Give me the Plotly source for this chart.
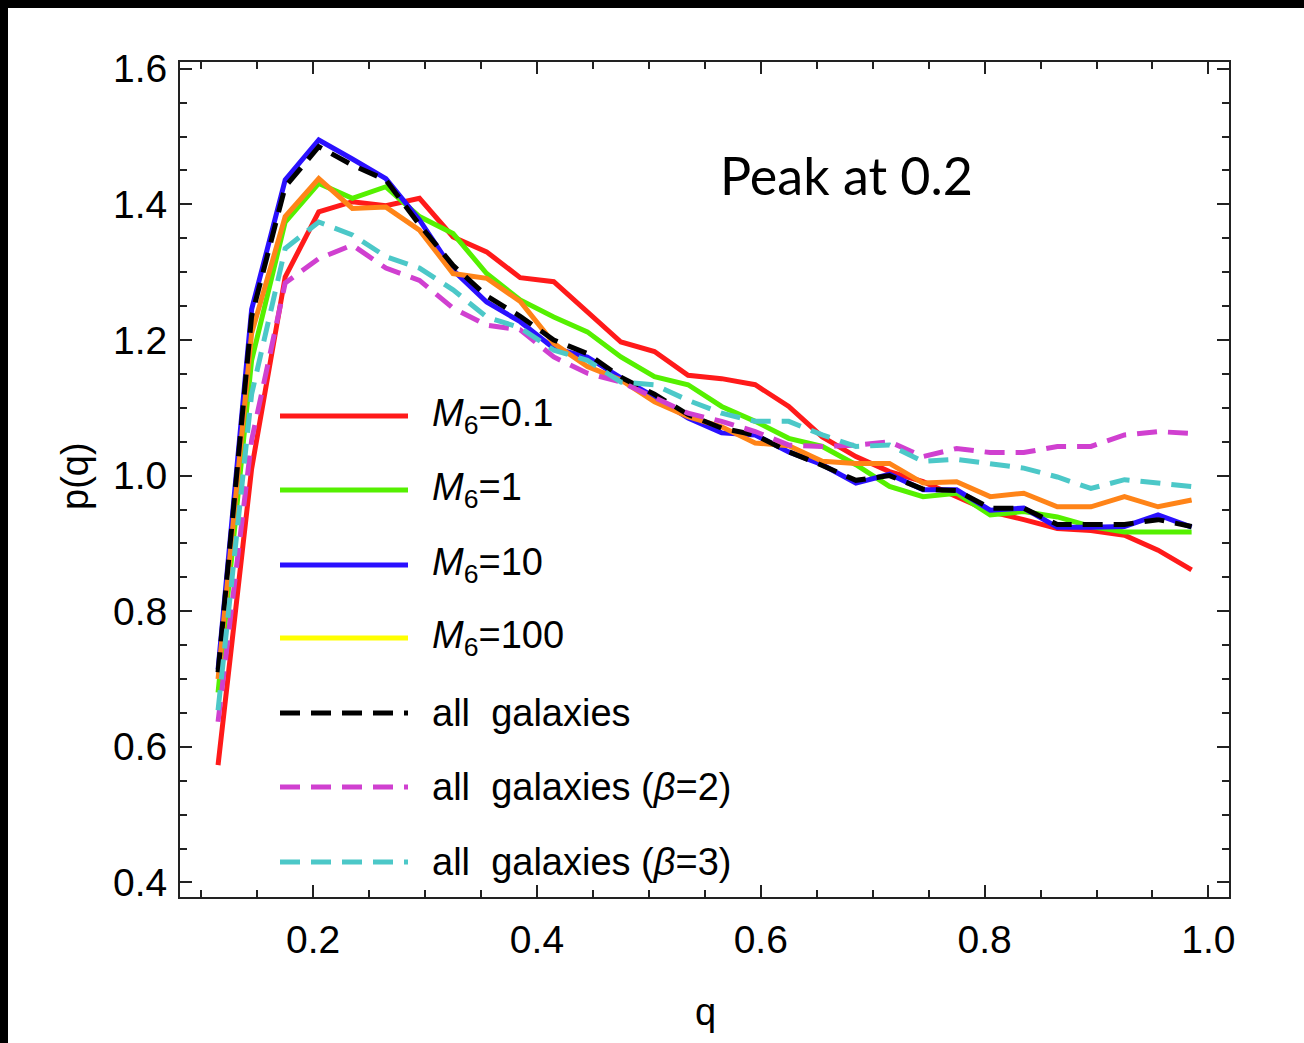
import plotly.graph_objects as go

# bin centres of q
q = [0.115, 0.145, 0.175, 0.205, 0.235, 0.265, 0.295, 0.325, 0.355, 0.385,
     0.415, 0.445, 0.475, 0.505, 0.535, 0.565, 0.595, 0.625, 0.655, 0.685,
     0.715, 0.745, 0.775, 0.805, 0.835, 0.865, 0.895, 0.925, 0.955, 0.985]

m6_01 = [0.573, 1.010, 1.293, 1.389, 1.404, 1.398, 1.409, 1.352, 1.330, 1.292,
         1.286, 1.242, 1.197, 1.183, 1.148, 1.143, 1.134, 1.102, 1.057, 1.028,
         1.006, 0.991, 0.969, 0.947, 0.935, 0.922, 0.919, 0.912, 0.890, 0.861]

m6_1 = [0.680, 1.170, 1.374, 1.431, 1.409, 1.426, 1.382, 1.357, 1.298, 1.259,
        1.234, 1.212, 1.175, 1.146, 1.134, 1.102, 1.080, 1.055, 1.043, 1.016,
        0.984, 0.969, 0.974, 0.942, 0.947, 0.939, 0.925, 0.917, 0.917, 0.917]

m6_10 = [0.714, 1.245, 1.436, 1.495, 1.467, 1.438, 1.377, 1.303, 1.256, 1.227,
         1.188, 1.175, 1.144, 1.116, 1.085, 1.063, 1.060, 1.035, 1.016, 0.989,
         1.002, 0.979, 0.979, 0.949, 0.952, 0.924, 0.924, 0.925, 0.942, 0.924]

m6_100 = [0.700, 1.210, 1.382, 1.438, 1.394, 1.396, 1.362, 1.298, 1.291, 1.257,
          1.195, 1.161, 1.141, 1.109, 1.087, 1.072, 1.048, 1.044, 1.021, 1.018,
          1.018, 0.989, 0.991, 0.969, 0.974, 0.954, 0.954, 0.969, 0.954, 0.964]

all_gal = [0.710, 1.235, 1.426, 1.485, 1.458, 1.436, 1.370, 1.310, 1.265, 1.235,
           1.200, 1.180, 1.145, 1.120, 1.090, 1.070, 1.060, 1.035, 1.015, 0.993,
           1.000, 0.980, 0.978, 0.952, 0.952, 0.928, 0.928, 0.928, 0.935, 0.925]

all_b2 = [0.637, 1.052, 1.284, 1.320, 1.340, 1.306, 1.288, 1.247, 1.222, 1.215,
          1.175, 1.151, 1.138, 1.116, 1.092, 1.080, 1.065, 1.045, 1.043, 1.045,
          1.050, 1.028, 1.040, 1.034, 1.034, 1.043, 1.043, 1.060, 1.065, 1.062]

all_b3 = [0.654, 1.120, 1.335, 1.374, 1.355, 1.323, 1.306, 1.274, 1.234, 1.218,
          1.185, 1.170, 1.138, 1.134, 1.111, 1.092, 1.080, 1.080, 1.060, 1.043,
          1.045, 1.021, 1.024, 1.018, 1.011, 0.998, 0.981, 0.994, 0.989, 0.984]

labels = ["<i>M</i><sub>6</sub>=0.1", "<i>M</i><sub>6</sub>=1",
          "<i>M</i><sub>6</sub>=10", "<i>M</i><sub>6</sub>=100",
          "all&nbsp;&nbsp;galaxies", "all&nbsp;&nbsp;galaxies (<i>β</i>=2)",
          "all&nbsp;&nbsp;galaxies (<i>β</i>=3)"]

series = [m6_01, m6_1, m6_10, m6_100, all_gal, all_b2, all_b3]
line_colors = ["#ff1a1a", "#55f000", "#2a10ff", "#ff8418", "#000000", "#d040d0", "#4cc8c8"]
legend_colors = ["#ff1a1a", "#55f000", "#2a10ff", "#ffff00", "#000000", "#d040d0", "#4cc8c8"]
dashes = ["solid", "solid", "solid", "solid", "20px,11px", "20px,11px", "20px,11px"]

FONT = "Liberation Sans, Arial, sans-serif"

fig = go.Figure()
for ys, c, d, lab in zip(series, line_colors, dashes, labels):
    fig.add_trace(go.Scatter(x=q, y=ys, mode="lines", name=lab,
                             line=dict(color=c, width=5, dash=d),
                             showlegend=False))

# the figure sits 8px from the top-left corner of the page (black page border)
OFF = 8
W, H = 1304 - OFF, 1043 - OFF
ml, mr, mt, mb = 180 - OFF, 75, 62 - OFF, 146
pw = W - ml - mr
ph = H - mt - mb

def px_x(px):
    return (px - OFF - ml) / pw

def px_y(py):
    return (H - mb - (py - OFF)) / ph

shapes = []
annotations = []
row_y = [416, 490, 565, 638, 713, 787, 862]
for ry, c, d, lab in zip(row_y, legend_colors, dashes, labels):
    shapes.append(dict(type="line", xref="paper", yref="paper",
                       x0=px_x(280), x1=px_x(408), y0=px_y(ry), y1=px_y(ry),
                       line=dict(color=c, width=5, dash=d)))
    annotations.append(dict(xref="paper", yref="paper", x=px_x(430), y=px_y(ry),
                            text=lab, showarrow=False, xanchor="left", yanchor="middle",
                            font=dict(family=FONT, size=38, color="black")))

annotations.append(dict(xref="paper", yref="paper", x=px_x(846), y=px_y(175),
                        text="Peak at 0.2", showarrow=False,
                        xanchor="center", yanchor="middle",
                        font=dict(family="Lato, Open Sans, sans-serif", size=52, color="black")))
annotations.append(dict(xref="paper", yref="paper", x=px_x(705), y=px_y(1012),
                        text="q", showarrow=False, xanchor="center", yanchor="middle",
                        font=dict(family=FONT, size=38, color="black")))
annotations.append(dict(xref="paper", yref="paper", x=px_x(75), y=px_y(476),
                        text="p(q)", showarrow=False, xanchor="center", yanchor="middle",
                        textangle=-90,
                        font=dict(family=FONT, size=38, color="black")))

axis_common = dict(showline=True, linecolor="#222", linewidth=2, mirror="ticks",
                   ticks="inside", ticklen=12, tickwidth=2, tickcolor="#222",
                   showgrid=False, zeroline=False,
                   tickfont=dict(family=FONT, size=39, color="black"),
                   minor=dict(dtick=0.05, ticklen=7, tickwidth=2, tickcolor="#222",
                              ticks="inside", showgrid=False))

fig.update_xaxes(range=[0.081, 1.0184], tick0=0.2, dtick=0.2, tickformat=".1f",
                 ticklabelstandoff=7, **axis_common)
fig.update_yaxes(range=[0.3785, 1.610], tick0=0.4, dtick=0.2, tickformat=".1f",
                 ticklabelstandoff=3, **axis_common)

fig.update_layout(width=W, height=H, margin=dict(l=ml, r=mr, t=mt, b=mb),
                  plot_bgcolor="white", paper_bgcolor="white",
                  shapes=shapes, annotations=annotations, showlegend=False)

fig.write_html("out.html",
               post_script="document.body.style.margin='8px 0 0 8px';"
                           "document.body.style.background='black';")
